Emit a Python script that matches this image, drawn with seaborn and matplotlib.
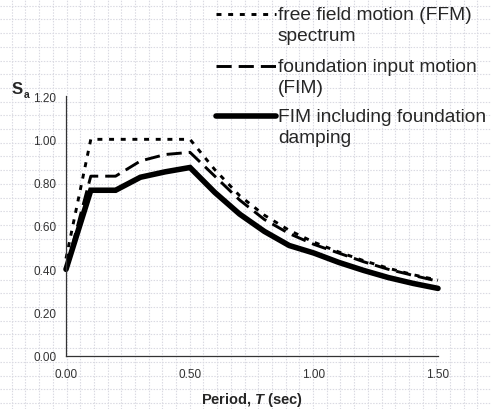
import numpy as np
import pandas as pd
import seaborn as sns
import matplotlib
matplotlib.use("Agg")
import matplotlib.pyplot as plt
from matplotlib.lines import Line2D
from matplotlib.ticker import MultipleLocator

# ── data ──
period = [0.0, 0.1, 0.2, 0.3, 0.4, 0.5, 0.6, 0.7, 0.8, 0.9, 1.0, 1.1, 1.2, 1.3, 1.4, 1.5]
ffm = [0.45, 1.00, 1.00, 1.00, 1.00, 1.00, 0.86, 0.74, 0.65, 0.58, 0.525, 0.48, 0.44, 0.405, 0.375, 0.35]
fim = [0.40, 0.83, 0.83, 0.90, 0.93, 0.94, 0.83, 0.72, 0.63, 0.565, 0.515, 0.475, 0.435, 0.40, 0.372, 0.345]
fim_damp = [0.40, 0.765, 0.765, 0.825, 0.85, 0.87, 0.755, 0.655, 0.575, 0.51, 0.475, 0.432, 0.395, 0.362, 0.335, 0.312]

labels = ["free field motion (FFM)\nspectrum",
          "foundation input motion\n(FIM)",
          "FIM including foundation\ndamping"]
y_ticks = [0.0, 0.2, 0.4, 0.6, 0.8, 1.0, 1.2]
x_ticks = [0.0, 0.5, 1.0, 1.5]

sns.set_style("white")
plt.rcParams['font.family'] = ['Liberation Sans', 'DejaVu Sans']
plt.rcParams['mathtext.fontset'] = 'custom'
plt.rcParams['mathtext.it'] = 'Liberation Sans:italic:bold'
plt.rcParams['mathtext.rm'] = 'Liberation Sans:bold'

W, H = 491, 410
fig = plt.figure(figsize=(W / 100, H / 100), dpi=100)
fig.patch.set_facecolor("white")
ax = fig.add_axes([66 / W, (H - 357) / H, (438 - 66) / W, (357 - 97) / H])
ax.patch.set_alpha(0)

# dotted background grid (slide grid)
grid_kw = dict(color="#dadae2", lw=0.8, dashes=(1.3, 1.3), zorder=-5)
for gx in np.arange(11.7, W, 13.7):
    fig.add_artist(Line2D([gx / W, gx / W], [0, 1], transform=fig.transFigure, **grid_kw))
for gy in np.arange(6.7, H, 13.7):
    fig.add_artist(Line2D([0, 1], [1 - gy / H, 1 - gy / H], transform=fig.transFigure, **grid_kw))

# line styles: (linewidth, dash pattern)
dot_style = dict(lw=2.1, dashes=(1.7, 2.3))
dash_style = dict(lw=2.1, dashes=(5.2, 2.4))
solid_style = dict(lw=4.0)

df = pd.DataFrame({"T": period, "ffm": ffm, "fim": fim, "damp": fim_damp})
for col, kw in [("ffm", dot_style), ("fim", dash_style), ("damp", solid_style)]:
    sns.lineplot(data=df, x="T", y=col, ax=ax, color="black", lw=kw["lw"], legend=False)
    line = ax.lines[-1]
    if "dashes" in kw:
        line.set_dashes(kw["dashes"])
    line.set_solid_joinstyle("miter")
    line.set_clip_on(False)

ax.set_xlim(0, 1.5)
ax.set_ylim(0, 1.2)
ax.set_xticks(x_ticks)
ax.set_yticks(y_ticks)
ax.xaxis.set_minor_locator(MultipleLocator(0.1))
ax.set_xticklabels([f"{v:.2f}" for v in x_ticks])
ax.set_yticklabels([f"{v:.2f}" for v in y_ticks])
ax.tick_params(axis="both", which="both", direction="out", colors="#333333",
               labelsize=8.5, labelcolor="#333333", width=0.8)
ax.tick_params(axis="both", which="major", length=4, pad=3)
ax.tick_params(axis="x", which="minor", length=4)
ax.tick_params(axis="x", pad=5)
for side in ["top", "right"]:
    ax.spines[side].set_visible(False)
for side in ["left", "bottom"]:
    ax.spines[side].set_color("#333333")
    ax.spines[side].set_linewidth(0.9)

ax.set_xlabel(r"Period, $\mathit{T}$ (sec)", fontsize=10.5, fontweight="bold", labelpad=7)
ax.set_ylabel("")

# S_a label at the top of the y axis
fig.text(12 / W, 1 - 89 / H, "S", fontsize=12, fontweight="bold", va="center", ha="left")
fig.text(23.5 / W, 1 - 95 / H, "a", fontsize=7.5, fontweight="bold", va="center", ha="left")

# legend drawn by hand so each handle sits on the first text line
leg_rows = [15, 67, 117]
for row, lab, kw in zip(leg_rows, labels, [dot_style, dash_style, solid_style]):
    yy = 1 - row / H
    fig.add_artist(Line2D([216 / W, 276 / W], [yy, yy], transform=fig.transFigure,
                          color="black", **kw))
    fig.text(278 / W, 1 - (row - 8) / H, lab, fontsize=13.8, va="top", ha="left",
             linespacing=1.3)

fig.savefig("out.png", dpi=100, facecolor="white")
